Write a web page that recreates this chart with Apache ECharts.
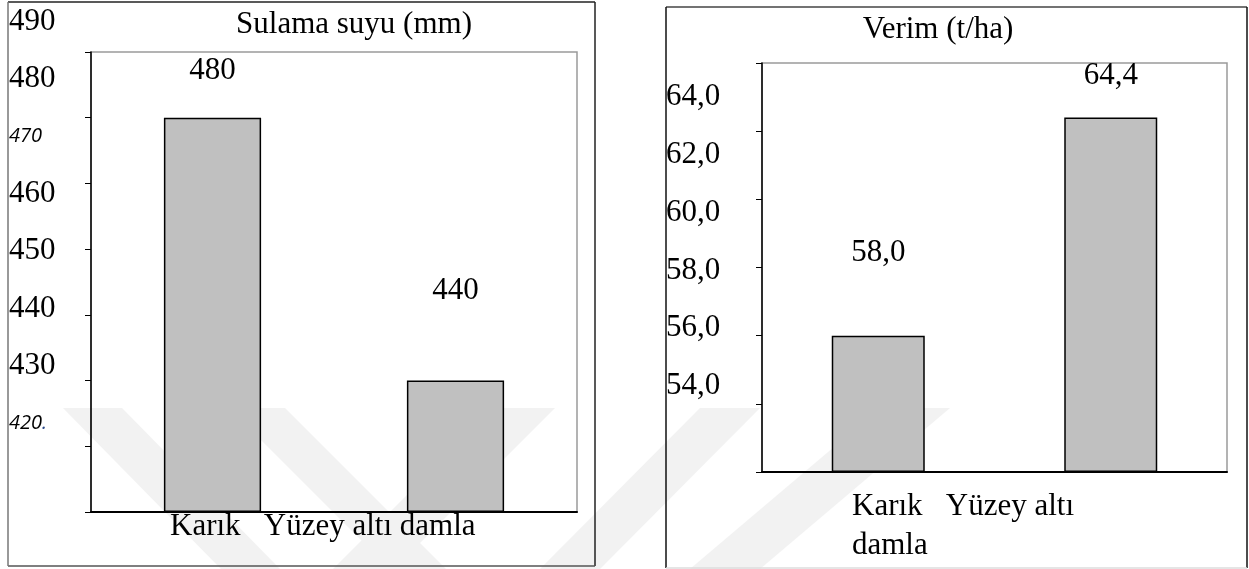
<!DOCTYPE html>
<html>
<head>
<meta charset="utf-8">
<script src="https://cdn.jsdelivr.net/npm/echarts@6/dist/echarts.min.js"></script>
<style>
  html, body { margin: 0; padding: 0; background: #fff; }
  #chart { width: 1249px; height: 569px; }
</style>
</head>
<body>
<div id="chart"></div>
<script>
// Irrigation method comparison: water applied and yield
const categories = ['Karık', 'Yüzey altı damla'];
const waterValues = [480, 440];        // Sulama suyu (mm)
const yieldValues = [58.0, 64.4];      // Verim (t/ha)
const waterTicks = [420, 430, 440, 450, 460, 470, 480, 490];
const yieldTicks = [54, 56, 58, 60, 62, 64];
const waterTitle = 'Sulama suyu (mm)';
const yieldTitle = 'Verim (t/ha)';

const SERIF = "'Liberation Serif', 'Times New Roman', serif";
const SANS = "'Open Sans', sans-serif";
const FS = 31;
const comma = v => Number(v).toFixed(1).replace('.', ',');

// vertical gap between each bar top and its value label
const waterLabelGap = [31, 74];
const yieldLabelGap = [67, 26];

const barStyle = { color: '#c0c0c0', borderColor: '#000', borderWidth: 1.5 };
const valueLabel = (fmt) => ({
  show: true, position: 'top', color: '#000',
  fontFamily: SERIF, fontSize: FS, formatter: fmt
});

// the italic, smaller tick texts of the left panel
const italicTick = { 470: '{i|470}', 420: '{i|420}{d|.}' };

const chart = echarts.init(document.getElementById('chart'), null, { renderer: 'canvas' });

const plotAxisY = (grid, min, max, step) => ({
  type: 'value', gridIndex: grid, min, max, interval: step, startValue: min,
  axisLine: { show: true, lineStyle: { color: '#000', width: 1.5 } },
  axisTick: { show: true, length: 6, lineStyle: { color: '#000', width: 1 } },
  axisLabel: { show: false }, splitLine: { show: false }
});
const labelAxisY = (grid, ticks, margin, fmt, rich) => ({
  type: 'value', gridIndex: grid,
  min: ticks[0], max: ticks[ticks.length - 1], interval: ticks[1] - ticks[0],
  axisLine: { show: false }, axisTick: { show: false }, splitLine: { show: false },
  axisLabel: {
    show: true, align: 'left', margin, color: '#000',
    fontFamily: SERIF, fontSize: FS, formatter: fmt, rich
  }
});
const catAxisX = (grid) => ({
  type: 'category', gridIndex: grid, data: categories,
  axisLine: { show: true, lineStyle: { color: '#000', width: 2 } },
  axisTick: { show: false }, axisLabel: { show: false }
});
const hiddenX = (grid) => ({ type: 'category', gridIndex: grid, data: categories, show: false });

// faint diagonal watermark bands
const bands = [
  [[63, 408], [122, 408], [280, 569], [221, 569]],
  [[229, 408], [285, 408], [446, 569], [390, 569]],
  [[494, 408], [555, 408], [394, 569], [333, 569]],
  [[700, 408], [760, 408], [600, 569], [540, 569]],
  [[880, 408], [950, 408], [760, 569], [690, 569]]
];

const line = (x1, y1, x2, y2, color, w) => ({
  type: 'line', z: 20, silent: true,
  shape: { x1, y1, x2, y2 }, style: { stroke: color, lineWidth: w }
});
const text = (str, x, y, extra) => ({
  type: 'text', z: 20, silent: true,
  style: Object.assign({
    text: str, x, y, fill: '#000',
    font: FS + 'px ' + SERIF,
    align: 'left', verticalAlign: 'middle',
    textAlign: 'left', textVerticalAlign: 'middle'
  }, extra || {})
});

const captionOneLine = categories.join('   ');
const captionWrapped = captionOneLine.replace(/ (\S+)$/, '\n$1');

const option = {
  backgroundColor: '#fff',
  animation: false,
  grid: [
    { left: 91, top: 52, width: 486, height: 460, show: true, borderColor: '#9a9a9a', borderWidth: 1.5, backgroundColor: 'transparent' },
    { left: 91, top: 22, width: 486, height: 401, show: false },
    { left: 762, top: 63, width: 465, height: 409, show: true, borderColor: '#9a9a9a', borderWidth: 1.5, backgroundColor: 'transparent' },
    { left: 762, top: 97, width: 465, height: 289, show: false }
  ],
  xAxis: [catAxisX(0), hiddenX(1), catAxisX(2), hiddenX(3)],
  yAxis: [
    plotAxisY(0, 420, 490, 10),
    labelAxisY(1, waterTicks, 82, v => italicTick[v] || String(v), {
      i: { fontFamily: SANS, fontStyle: 'italic', fontSize: 20, color: '#000' },
      d: { fontFamily: SANS, fontStyle: 'italic', fontSize: 20, color: '#2b4a8a' }
    }),
    plotAxisY(2, 54, 66, 2),
    labelAxisY(3, yieldTicks, 96, v => comma(v))
  ],
  series: [
    {
      type: 'bar', xAxisIndex: 0, yAxisIndex: 0, barWidth: '40%',
      itemStyle: barStyle, label: valueLabel('{c}'),
      data: waterValues.map((v, i) => ({ value: v, label: { distance: waterLabelGap[i] } }))
    },
    {
      type: 'bar', xAxisIndex: 2, yAxisIndex: 2, barWidth: '40%',
      itemStyle: barStyle, label: valueLabel(p => comma(p.value)),
      data: yieldValues.map((v, i) => ({ value: v, label: { distance: yieldLabelGap[i] } }))
    }
  ],
  graphic: [
    ...bands.map(pts => ({
      type: 'polygon', z: -10, silent: true,
      shape: { points: pts }, style: { fill: '#f2f2f2' }
    })),
    // left panel frame
    line(8, 2, 595, 2, '#222', 1.5),
    line(595, 2, 595, 566, '#222', 1.5),
    line(8, 566, 595, 566, '#555', 1.5),
    line(8, 2, 8, 566, '#777', 1.5),
    // right panel frame
    line(666, 7, 1247, 7, '#444', 1.5),
    line(1247, 7, 1247, 568, '#111', 1.5),
    line(666, 7, 666, 568, '#111', 1.5),
    line(666, 568, 1247, 568, '#ddd', 1.5),
    // titles
    text(waterTitle, 354, 25, { align: 'center', textAlign: 'center' }),
    text(yieldTitle, 938, 30, { align: 'center', textAlign: 'center' }),
    // category captions
    text(captionOneLine, 170, 527),
    text(captionWrapped, 852, 487, {
      verticalAlign: 'top', textVerticalAlign: 'top', lineHeight: 39
    })
  ]
};

chart.setOption(option);
</script>
</body>
</html>
